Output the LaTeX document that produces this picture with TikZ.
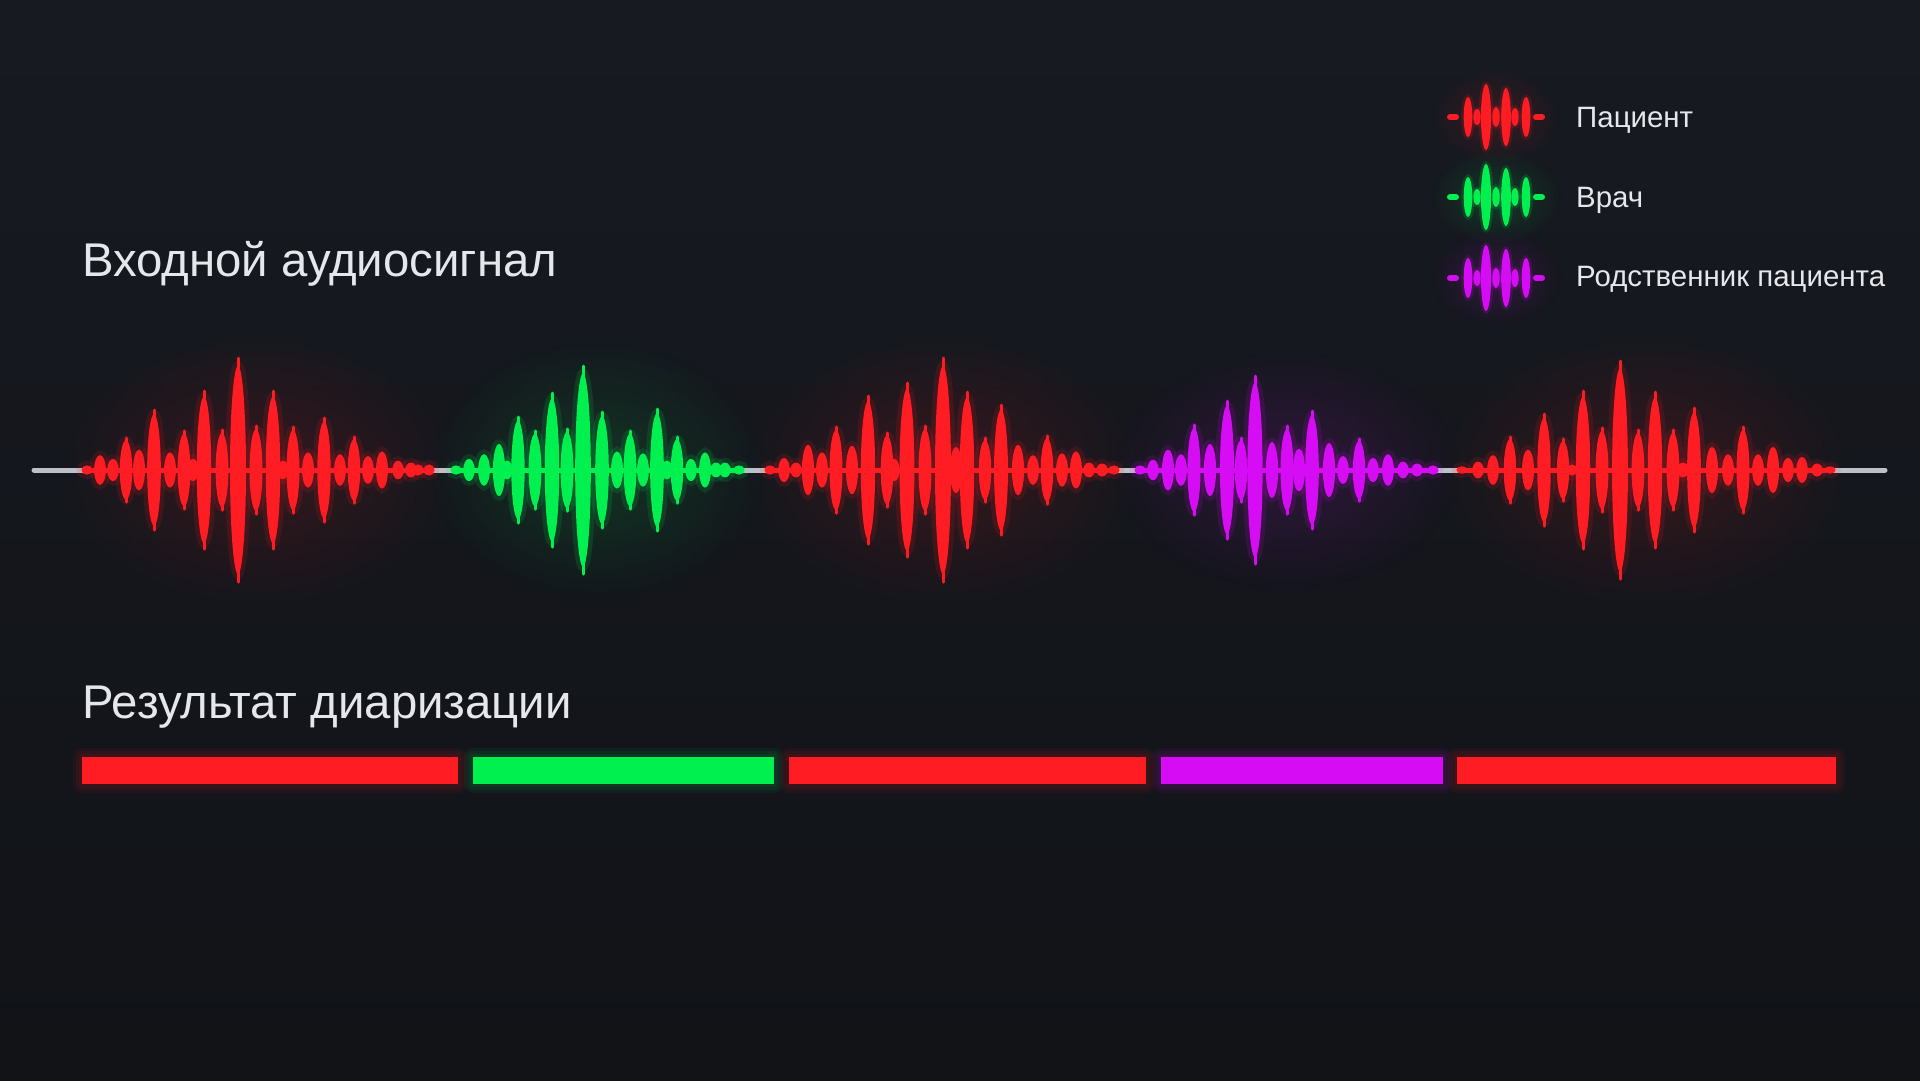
\documentclass[tikz,border=0pt]{standalone}
\usepackage{fontspec}
\setmainfont{Liberation Sans}
\usetikzlibrary{fadings}
\definecolor{cred}{RGB}{255,28,34}
\definecolor{cgreen}{RGB}{0,240,80}
\definecolor{cpurple}{RGB}{214,12,245}
\definecolor{cline}{RGB}{190,192,200}
\definecolor{ctext}{RGB}{230,231,236}
\definecolor{bgtop}{RGB}{23,26,33}
\definecolor{bgmid}{RGB}{10,11,14}
\definecolor{bgbot}{RGB}{17,19,23}
\tikzfading[name=glowfade, inner color=transparent!10, outer color=transparent!100]
\newlength\tmpw
\newcommand\wavepart[4]{% color, from, to, list
  \draw[#1, line width=5] (#2,470) -- (#3,470);
  \foreach \x/\h in {#4}{%
    \pgfmathsetmacro\w{5.5+\h/45}%
    \pgfmathsetmacro\hh{0.93*\h}%
    \draw[#1, line width=9, opacity=0.13] (\x,470) ellipse [x radius=\w, y radius=\hh];
    \fill[#1] (\x,470) ellipse [x radius=\w, y radius=\hh];
    \ifdim\h pt>30pt \draw[#1, line width=3, line cap=round] (\x,470-\h) -- (\x,470+\h);\fi
  }}
\newcommand\legicon[3]{%
  \fill[#1, opacity=.18, path fading=glowfade] (#2,#3) ellipse [x radius=65, y radius=48];
  \draw[#1, line width=6, line cap=round] (#2-46,#3) -- (#2-40,#3);
  \draw[#1, line width=6, line cap=round] (#2+40,#3) -- (#2+46,#3);
  \foreach \dx/\h in {-28/20,-19/8,-10/33,0/10,10/29,19/9,30/20}{%
    \pgfmathsetmacro\w{3.2+\h/18}%
    \draw[#1, line width=5, opacity=.15] (#2+\dx,#3) ellipse [x radius=\w, y radius=\h];
    \fill[#1] (#2+\dx,#3) ellipse [x radius=\w, y radius=\h];
  }}
\newcommand\diabar[3]{%
  \foreach \e in {9,6,3}{%
    \fill[#1, opacity=.06, rounded corners=\e] (#2-\e,757-\e) rectangle (#3+\e,784+\e);}
  \fill[#1] (#2,757) rectangle (#3,784);}
\tikzset{
  title/.style={anchor=base west, inner sep=0, text=ctext, font=\fontsize{\titlesize}{\titlesize}\selectfont},
  legtext/.style={anchor=base west, inner sep=0, text=ctext, font=\fontsize{\legsize}{\legsize}\selectfont},
  glow/.style={opacity=.16, path fading=glowfade}
}
\begin{document}
\settowidth\tmpw{\fontsize{40}{48}\selectfont Входной аудиосигнал}%
\pgfmathsetmacro\titlesize{475/\tmpw*40}%
\settowidth\tmpw{\fontsize{30}{36}\selectfont Родственник пациента}%
\pgfmathsetmacro\legsize{309/\tmpw*30}%
\begin{tikzpicture}[x=1pt,y=-1pt]
\useasboundingbox (0,0) rectangle (1920,1080);
\shade[top color=bgtop, middle color=bgmid, bottom color=bgbot] (0,0) rectangle (1920,1080);
% glows
\fill[cred, glow] (258,470) ellipse [x radius=200, y radius=140];
\fill[cgreen, glow] (597,470) ellipse [x radius=170, y radius=130];
\fill[cred, glow] (942,470) ellipse [x radius=200, y radius=140];
\fill[cpurple, glow] (1287,470) ellipse [x radius=175, y radius=120];
\fill[cred, glow] (1646,470) ellipse [x radius=210, y radius=140];
% baseline
\draw[cline, line width=5, line cap=round] (34,470) -- (1885,470);
% waveforms
\wavepart{cred}{87}{429}{87/5, 100/16, 113/12, 126/32, 139/22, 154/60, 170/19, 184/39, 193/12, 204/79, 222/40, 238/112, 256/44, 273/79, 283/10, 293/43, 308/19, 324/52, 340/17, 354/33, 368/15, 382/20, 398/10, 411/8, 418/6, 429/6}
\wavepart{cgreen}{456}{739}{456/5, 469/12, 484/17, 499/28, 507/10, 518/53, 535/39, 552/77, 567/41, 583/104, 602/58, 617/20, 630/39, 643/18, 657/61, 667/10, 677/33, 691/12, 705/19, 716/8, 725/8, 739/5}
\wavepart{cred}{770}{1114}{770/5, 784/13, 796/8, 808/27, 822/19, 836/43, 852/26, 868/74, 887/37, 894/12, 907/87, 925/44, 943/112, 956/25, 967/78, 985/32, 1001/65, 1018/27, 1033/16, 1047/34, 1062/18, 1076/20, 1089/8, 1102/7, 1114/5}
\wavepart{cpurple}{1140}{1433}{1140/5, 1153/11, 1168/22, 1181/17, 1194/45, 1210/28, 1227/69, 1241/32, 1255/94, 1272/30, 1287/44, 1299/23, 1312/59, 1329/29, 1343/15, 1359/31, 1373/13, 1388/17, 1403/9, 1417/7, 1433/5}
\wavepart{cred}{1462}{1830}{1462/4, 1478/9, 1493/16, 1510/33, 1528/22, 1544/56, 1563/31, 1572/6, 1583/79, 1602/42, 1620/109, 1638/40, 1655/78, 1673/40, 1683/8, 1694/62, 1712/25, 1728/17, 1743/43, 1758/17, 1773/25, 1788/13, 1802/14, 1817/7, 1830/4}
% titles
\node[title] (title1) at (82,276) {Входной аудиосигнал};
\node[title] (title2) at (82,718) {Результат диаризации};
% bars
\diabar{cred}{82}{458}
\diabar{cgreen}{473}{774}
\diabar{cred}{789}{1146}
\diabar{cpurple}{1161}{1443}
\diabar{cred}{1457}{1836}
% legend
\legicon{cred}{1496}{117}
\legicon{cgreen}{1496}{197}
\legicon{cpurple}{1496}{278}
\node[legtext] (leg1) at (1576,127) {Пациент};
\node[legtext] (leg2) at (1576,207) {Врач};
\node[legtext] (leg3) at (1576,286) {Родственник пациента};
\end{tikzpicture}
\end{document}
